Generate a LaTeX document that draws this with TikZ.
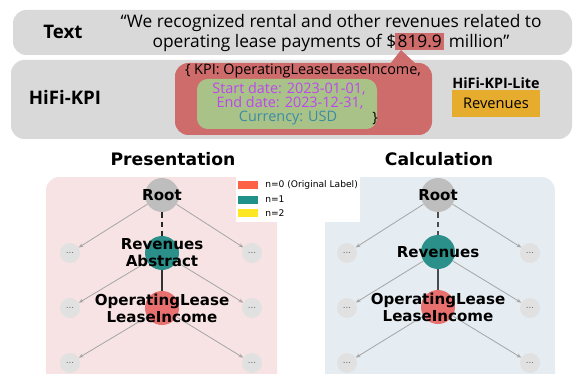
\documentclass[tikz,border=0pt]{standalone}
\usepackage{fontspec}
\setmainfont{Open Sans}
\newfontfamily\djv{DejaVu Sans}
\usetikzlibrary{arrows.meta}

\definecolor{bandgray}{RGB}{217,217,217}
\definecolor{calloutred}{RGB}{206,107,107}
\definecolor{boxgreen}{RGB}{168,194,136}
\definecolor{datepurple}{RGB}{190,70,240}
\definecolor{currteal}{RGB}{60,140,165}
\definecolor{liteorange}{RGB}{230,172,46}
\definecolor{prespink}{RGB}{247,227,227}
\definecolor{calcblue}{RGB}{229,237,242}
\definecolor{rootgray}{RGB}{190,190,190}
\definecolor{revteal}{RGB}{42,144,137}
\definecolor{oplred}{RGB}{232,112,110}
\definecolor{dotgray}{RGB}{225,225,225}
\definecolor{edgegray}{RGB}{165,165,165}
\definecolor{legred}{RGB}{255,99,71}
\definecolor{legteal}{RGB}{33,145,140}
\definecolor{legyellow}{RGB}{253,231,37}

\newcommand{\hlvalue}[1]{\kern-0.8pt{\setlength{\fboxsep}{1.8pt}\colorbox{calloutred}{#1}}}

\begin{document}
\begin{tikzpicture}[x=0.75pt, y=-0.75pt,
    rowlabel/.style={font=\bfseries\fontsize{14}{16}\selectfont},
    quote/.style={font=\fontsize{13}{14.2}\selectfont, align=center},
    kpitext/.style={font=\fontsize{10.8}{12}\selectfont},
    treenode/.style={circle, inner sep=0pt, minimum size=25.5pt},
    treelabel/.style={font=\djv\bfseries\fontsize{11.3}{12.8}\selectfont, align=center},
    sidedot/.style={circle, fill=dotgray, inner sep=0pt, minimum size=15pt,
        text=black!60, font=\djv\fontsize{6.5}{6.5}\selectfont},
    sideedge/.style={edgegray, line width=0.6pt, -{Stealth[length=3.5pt, width=2.8pt]}},
    paneltitle/.style={font=\djv\bfseries\fontsize{12.9}{14}\selectfont},
    legswatch/.style={minimum width=15pt, minimum height=6pt, inner sep=0pt},
    legtext/.style={font=\djv\fontsize{6.85}{7}\selectfont, anchor=west, inner sep=0pt}]
    \useasboundingbox (0,0) rectangle (574,374);
    \clip (0,0) rectangle (574,374);

    % Bands
    \fill[bandgray, rounded corners=10] (13,10) rectangle (572,55);
    \fill[bandgray, rounded corners=10] (11,60) rectangle (572,139);
    \node[rowlabel] (textlbl) at (63,32) {Text};
    \node[rowlabel] (hifilbl) at (65,97) {HiFi-KPI};

    % Sentence with highlighted value
    \node[quote] (sentence) at (331,33) {“We recognized rental and other revenues related to\\
        operating lease payments of \$\hlvalue{819.9} million”};

    % Callout
    \fill[calloutred, rounded corners=10] (175,63) rectangle (432,135);
    \fill[calloutred] (390,64) -- (401,50) -- (416,64) -- cycle;
    \fill[boxgreen, rounded corners=8] (197,79) rectangle (377,129);
    \node[kpitext] (kpiname) at (303,71) {\{ KPI: OperatingLeaseLeaseIncome,};
    \node[kpitext, text=datepurple] (startdate) at (289,89) {Start date: 2023-01-01,};
    \node[kpitext, text=datepurple] (enddate) at (290,103) {End date: 2023-12-31,};
    \node[kpitext, text=currteal] (currency) at (288,118) {Currency: USD};
    \node[kpitext] (closebrace) at (375,118) {\}};

    % Lite label
    \node[font=\bfseries\fontsize{10.75}{12}\selectfont] (litelbl) at (496,83) {HiFi-KPI-Lite};
    \node[fill=liteorange, minimum width=66pt, minimum height=20pt, inner sep=0pt,
        font=\fontsize{11}{12}\selectfont] (litebox) at (496,103.5) {Revenues};

    % Panels
    \node[paneltitle] (prestitle) at (173,159) {Presentation};
    \node[paneltitle] (calctitle) at (439,159) {Calculation};
    \fill[prespink, rounded corners=10] (46,177) rectangle (277,395);
    \fill[calcblue, rounded corners=10] (325,177) rectangle (555,395);

    % Legend
    \fill[white] (236,177) rectangle (360,222);
    \node[legswatch, fill=legred] (swred) at (248,185) {};
    \node[legswatch, fill=legteal] (swteal) at (248,199.5) {};
    \node[legswatch, fill=legyellow] (swyellow) at (248,213) {};
    \node[legtext] (legzero) at (265,185) {n=0 (Original Label)};
    \node[legtext] (legone) at (265,199.5) {n=1};
    \node[legtext] (legtwo) at (265,213) {n=2};

    % Presentation tree
    \node[sidedot] (pl1) at (70,253) {...};
    \node[sidedot] (pr1) at (252,253) {...};
    \node[sidedot] (pl2) at (70,308) {...};
    \node[sidedot] (pr2) at (252,308) {...};
    \node[sidedot] (pl3) at (70,363) {...};
    \node[sidedot] (pr3) at (252,363) {...};
    \node[treenode, fill=rootgray] (proot) at (162,195) {};
    \node[treenode, fill=revteal] (prev) at (162,253) {};
    \node[treenode, fill=oplred] (popl) at (162,308) {};
    \draw[sideedge] (proot) -- (pl1);
    \draw[sideedge] (proot) -- (pr1);
    \draw[sideedge] (prev) -- (pl2);
    \draw[sideedge] (prev) -- (pr2);
    \draw[sideedge] (popl) -- (pl3);
    \draw[sideedge] (popl) -- (pr3);
    \draw[black!85, line width=1.1pt, dash pattern=on 4pt off 3pt] (proot) -- (prev);
    \draw[black!80, line width=1.1pt] (prev) -- (popl);
    \node[treelabel] (prootlbl) at (proot) {Root};
    \node[treelabel] (prevlbl) at (prev) {Revenues\\Abstract};
    \node[treelabel] (popllbl) at (popl) {OperatingLease\\LeaseIncome};

    % Calculation tree
    \node[sidedot] (cl1) at (347,253) {...};
    \node[sidedot] (cr1) at (530,253) {...};
    \node[sidedot] (cl2) at (347,308) {...};
    \node[sidedot] (cr2) at (530,308) {...};
    \node[sidedot] (cl3) at (347,363) {...};
    \node[sidedot] (cr3) at (530,363) {...};
    \node[treenode, fill=rootgray] (croot) at (438,195) {};
    \node[treenode, fill=revteal] (crev) at (438,252) {};
    \node[treenode, fill=oplred] (copl) at (438,307) {};
    \draw[sideedge] (croot) -- (cl1);
    \draw[sideedge] (croot) -- (cr1);
    \draw[sideedge] (crev) -- (cl2);
    \draw[sideedge] (crev) -- (cr2);
    \draw[sideedge] (copl) -- (cl3);
    \draw[sideedge] (copl) -- (cr3);
    \draw[black!70, line width=1.1pt, dash pattern=on 4pt off 3pt] (croot) -- (crev);
    \draw[black!70, line width=1.1pt] (crev) -- (copl);
    \node[treelabel] (crootlbl) at (croot) {Root};
    \node[treelabel] (crevlbl) at (crev) {Revenues};
    \node[treelabel] (copllbl) at (copl) {OperatingLease\\LeaseIncome};
\end{tikzpicture}
\end{document}
